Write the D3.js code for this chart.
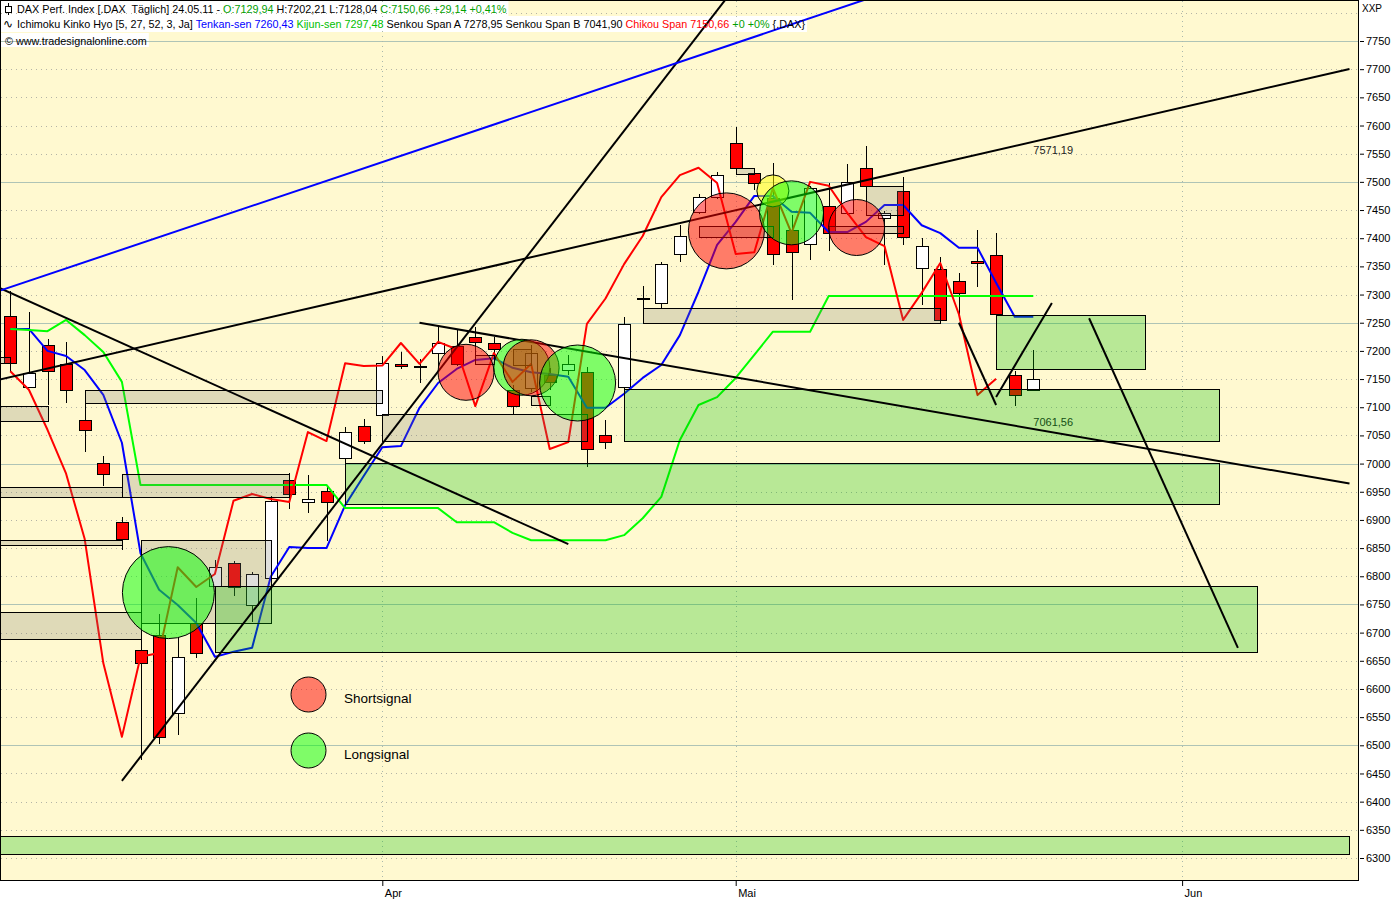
<!DOCTYPE html>
<html>
<head>
<meta charset="utf-8">
<script src="https://cdn.jsdelivr.net/npm/d3@7"></script>
<style>
  html, body { margin: 0; padding: 0; background: #ffffff; }
  svg { display: block; font-family: "Liberation Sans", Arial, sans-serif; }
</style>
</head>
<body>
<svg id="chart" width="1400" height="900"></svg>
<script>
// ---- DAX daily candles, 04.03.2011 – 24.05.2011 ----
const dates = ["04.03","07.03","08.03","09.03","10.03","11.03","14.03","15.03","16.03","17.03",
  "18.03","21.03","22.03","23.03","24.03","25.03","28.03","29.03","30.03","31.03",
  "01.04","04.04","05.04","06.04","07.04","08.04","11.04","12.04","13.04","14.04",
  "15.04","18.04","19.04","20.04","21.04","26.04","27.04","28.04","29.04","02.05",
  "03.05","04.05","05.05","06.05","09.05","10.05","11.05","12.05","13.05","16.05",
  "17.05","18.05","19.05","20.05","23.05","24.05"];

const open = [7262,7136,7210,7177,7077,7001,6896,6669,6696,6557,6717,6783,6824,6749,6797,6971,6932,6951,7010,7067,
  7086,7177,7172,7196,7209,7225,7214,7131,7134,7157,7166,7162,7051,7136,7292,7285,7372,7446,7473,7569,
  7516,7471,7415,7390,7457,7445,7525,7436,7484,7347,7345,7324,7360,7370,7157,7129.94];
const high = [7306,7269,7221,7216,7106,7013,6905,6705,6733,6692,6761,6829,6827,6808,6942,6983,6980,6960,7065,7079,
  7191,7198,7186,7242,7237,7242,7225,7139,7210,7170,7193,7171,7077,7260,7315,7358,7423,7478,7517,7597,
  7521,7533,7441,7493,7498,7532,7564,7449,7509,7400,7367,7338,7415,7409,7164,7202.21];
const low = [7162,7134,7104,7108,7021,6960,6847,6474,6502,6518,6655,6776,6765,6719,6793,6919,6912,6863,7001,7035,
  7077,7168,7143,7171,7173,7193,7193,7088,7127,7131,7157,6994,7026,7127,7276,7276,7358,7443,7470,7521,
  7486,7352,7290,7361,7377,7441,7489,7352,7388,7282,7251,7260,7313,7262,7102,7128.04];
const close = [7178,7161,7164,7131,7060,6982,6866,6646,6515,6657,6664,6816,6781,6804,6934,6946,6937,6932,7056,7040,
  7178,7173,7174,7214,7177,7216,7203,7102,7196,7145,7177,7026,7038,7248,7293,7354,7404,7473,7512,7525,
  7498,7372,7375,7489,7409,7500,7493,7445,7402,7386,7255,7303,7356,7265,7121.52,7150.66];

// ---- Ichimoku [5, 27, 52, 3] ----
const tenkan = [7239,7239,7200,7191,7166,7122,7037,6841,6776,6749,6717,6657,6666,6673,6799,6852,6850,6850,6926,6978,
  7029,7031,7099,7143,7168,7184,7187,7170,7162,7159,7154,7099,7099,7124,7152,7175,7228,7305,7388,7429,
  7475,7475,7447,7445,7411,7411,7429,7459,7459,7423,7409,7383,7383,7321,7260.43,7260.43];
const kijun = [7239,7237,7235,7255,7228,7198,7145,6962,6962,6962,6962,6962,6962,6962,6962,6962,6962,6962,6921,6921,
  6921,6921,6921,6921,6896,6896,6896,6877,6864,6864,6864,6864,6864,6873,6903,6941,7042,7104,7118,7152,
  7193,7234,7234,7234,7297.48,7297.48,7297.48,7297.48,7297.48,7297.48,7297.48,7297.48,7297.48,7297.48,7297.48,7297.48];
const chikouShift = 2;

// ---- signal circles ----
const signalKind  = ["long","short","long","short","long","short","neutral","long","short"];
const signalIdx   = [8.5, 24.5, 27.5, 28, 30.5, 38.5, 41, 42, 45.5];
const signalPrice = [6771, 7162, 7171, 7170, 7143, 7413, 7484, 7445, 7419];

// ---- support / resistance zones: [from bar, to bar, upper, lower] ----
const grayFrom  = [-1, -1, 4, -1, 6, -1, 7, -1, 20, 25, 27, 28, 34, 39, 46, 37, 44];
const grayTo    = [0, 2, 20, 6, 15, 6, 14, 7, 31, 26, 28, 29, 50, 40, 48, 41, 48];
const grayUpper = [7189, 7102, 7131, 6958, 6982, 6864, 6864, 6737, 7088, 7193, 7203, 7120, 7276, 7525, 7493, 7422, 7422];
const grayLower = [7178, 7076, 7108, 6941, 6941, 6856, 6717, 6689, 7040, 7177, 7175, 7104, 7250, 7514, 7441, 7402, 7409];

const greenFrom  = [18, 11, 33, 53, -1];
const greenTo    = [65, 67, 65, 61, 72];
const greenUpper = [7001, 6783, 7132, 7264, 6339];
const greenLower = [6928, 6666, 7040, 7168, 6307];

// ---- trend lines: [bar1, price1, bar2, price2] ----
const trendFrom  = [-1, -1, 6, -1, 22, 51, 53, 58];
const trendP1    = [7318, 7146, 6437, 7302, 7250, 7250, 7118, 7258];
const trendTo    = [30, 72, 39, 47, 72, 53, 56, 66];
const trendP2    = [6857, 7700.27, 7847, 7835, 6964.485, 7104, 7285, 6673];
const trendKind  = ["black","black","black","blue","black","black","black","black"];
const trendValueAt = 55;
const trendLabelled = [1, 4];   // lines carrying a value label at the last bar

// ---- axis ticks ----
const monthLabels = ["Apr", "Mai", "Jun"];
const monthBars   = [20, 39, 63];
const priceTicks  = d3.range(6300, 7751, 50);
const gridPrices  = d3.range(6300, 7801, 50);

// ---- legend ----
const legendLabels = ["Shortsignal", "Longsignal"];

// ===================================================================
const svg = d3.select("#chart");
const plot = { l: 1, t: 1, r: 1358, b: 880 };

const x = d3.scaleLinear().domain([0, 55]).range([10.3, 1033.3]);
const y = d3.scaleLinear().domain([6300, 7750]).range([858, 41]);
const deFmt = d3.formatLocale({ decimal: ",", thousands: ".", grouping: [3], currency: ["", " €"] }).format(".2f");

svg.append("rect").attr("width", 1400).attr("height", 900).attr("fill", "#ffffff");
svg.append("rect")
  .attr("x", plot.l).attr("y", plot.t)
  .attr("width", plot.r - plot.l).attr("height", plot.b - plot.t)
  .attr("fill", "#FFF9D0");

svg.append("clipPath").attr("id", "plotclip")
  .append("rect").attr("x", plot.l).attr("y", plot.t)
  .attr("width", plot.r - plot.l).attr("height", plot.b - plot.t);

const headerBg = svg.append("g");
const g = svg.append("g").attr("clip-path", "url(#plotclip)");

// grid
const grid = g.append("g").attr("shape-rendering", "crispEdges");
grid.selectAll("line.h").data(gridPrices).join("line")
  .attr("x1", plot.l).attr("x2", plot.r)
  .attr("y1", d => Math.round(y(d)) + 0.5).attr("y2", d => Math.round(y(d)) + 0.5)
  .attr("stroke", d => d % 250 === 0 ? "#AFC4B6" : "#B4B4A6")
  .attr("stroke-width", 1)
  .attr("stroke-dasharray", d => d % 250 === 0 ? null : "1,4");
grid.selectAll("line.v").data(monthBars).join("line")
  .attr("x1", d => Math.round(x(d)) + 0.5).attr("x2", d => Math.round(x(d)) + 0.5)
  .attr("y1", plot.t).attr("y2", plot.b)
  .attr("stroke", "#AAB8AC").attr("stroke-dasharray", "1,4");

// candles
const bars = d3.range(dates.length).map(i => ({ i, o: open[i], h: high[i], l: low[i], c: close[i] }));
const cg = g.append("g").attr("shape-rendering", "crispEdges");
cg.selectAll("line").data(bars).join("line")
  .attr("x1", d => Math.round(x(d.i)) + 0.5).attr("x2", d => Math.round(x(d.i)) + 0.5)
  .attr("y1", d => y(d.h)).attr("y2", d => y(d.l))
  .attr("stroke", "#000").attr("stroke-width", 1);
cg.selectAll("rect").data(bars).join("rect")
  .attr("x", d => Math.round(x(d.i)) - 5.5)
  .attr("width", 12)
  .attr("y", d => Math.round(y(Math.max(d.o, d.c))) + 0.5)
  .attr("height", d => Math.max(1, Math.round(y(Math.min(d.o, d.c))) - Math.round(y(Math.max(d.o, d.c)))))
  .attr("fill", d => d.c >= d.o ? "#FFFFFF" : "#FF0000")
  .attr("stroke", "#000").attr("stroke-width", 1);

// ichimoku lines
const line = d3.line().x(d => x(d[0])).y(d => y(d[1]));
const ig = g.append("g").attr("fill", "none").attr("stroke-width", 2).attr("stroke-linejoin", "round");
ig.append("path").attr("d", line(tenkan.map((v, i) => [i, v]))).attr("stroke", "#0000FF");
ig.append("path").attr("d", line(kijun.map((v, i) => [i, v]))).attr("stroke", "#00FF00");
const chikou = close.slice(chikouShift).map((v, i) => [i, v]);
ig.append("path").attr("d", line(chikou)).attr("stroke", "#FF0000");

// trend line value labels (under zones so the green tint applies)
const lineAt = (k, b) => trendP1[k] + (trendP2[k] - trendP1[k]) * (b - trendFrom[k]) / (trendTo[k] - trendFrom[k]);
const lg = g.append("g").attr("font-size", 11).attr("fill", "#222");
trendLabelled.forEach(k => {
  const v = lineAt(k, trendValueAt);
  const above = trendP2[k] < trendP1[k];
  lg.append("text")
    .attr("x", x(trendValueAt))
    .attr("y", y(v) + (above ? -3 : 12.5))
    .text(deFmt(v));
});

// zones
const zg = g.append("g").attr("shape-rendering", "crispEdges").attr("stroke", "#000").attr("stroke-width", 1);
const zone = (from, to, up, lo) => d3.range(from.length).map(k => ({ a: from[k], b: to[k], u: up[k], d: lo[k] }));
zg.selectAll("rect.gray").data(zone(grayFrom, grayTo, grayUpper, grayLower)).join("rect")
  .attr("x", d => Math.round(x(d.a)) + 0.5).attr("width", d => Math.round(x(d.b)) - Math.round(x(d.a)))
  .attr("y", d => Math.round(y(d.u)) + 0.5).attr("height", d => Math.round(y(d.d)) - Math.round(y(d.u)))
  .attr("fill", "rgba(120,120,110,0.24)");
zg.selectAll("rect.green").data(zone(greenFrom, greenTo, greenUpper, greenLower)).join("rect")
  .attr("x", d => Math.round(x(d.a)) + 0.5).attr("width", d => Math.round(x(d.b)) - Math.round(x(d.a)))
  .attr("y", d => Math.round(y(d.u)) + 0.5).attr("height", d => Math.round(y(d.d)) - Math.round(y(d.u)))
  .attr("fill", "rgba(0,190,0,0.28)");

// trend lines
const tg = g.append("g").attr("stroke-width", 2);
d3.range(trendFrom.length).forEach(k => {
  tg.append("line")
    .attr("x1", x(trendFrom[k])).attr("y1", y(trendP1[k]))
    .attr("x2", x(trendTo[k])).attr("y2", y(trendP2[k]))
    .attr("stroke", trendKind[k] === "blue" ? "#0000FF" : "#000000");
});

// signal circles
const signalRadius = [46, 28, 28, 28, 38, 38, 16, 32, 28];
const signalFill = { long: "rgba(0,255,0,0.5)", short: "rgba(255,0,0,0.5)", neutral: "rgba(255,255,0,0.5)" };
g.append("g").selectAll("circle").data(d3.range(signalIdx.length)).join("circle")
  .attr("cx", k => x(signalIdx[k])).attr("cy", k => y(signalPrice[k]))
  .attr("r", k => signalRadius[k])
  .attr("fill", k => signalFill[signalKind[k]])
  .attr("stroke", "#000").attr("stroke-width", 1);

// legend
const leg = svg.append("g");
legendLabels.forEach((t, k) => {
  const cy = 694.5 + k * 56;
  leg.append("circle").attr("cx", 308.5).attr("cy", cy).attr("r", 17.5)
    .attr("fill", k === 0 ? signalFill.short : signalFill.long)
    .attr("stroke", "#000").attr("stroke-width", 1);
  leg.append("text").attr("x", 344).attr("y", cy + 8.5)
    .attr("font-size", 13.5).attr("fill", "#000").text(t);
});

// frame
svg.append("rect")
  .attr("x", plot.l - 0.5).attr("y", plot.t - 0.5)
  .attr("width", plot.r - plot.l + 1).attr("height", plot.b - plot.t + 1)
  .attr("fill", "none").attr("stroke", "#000").attr("stroke-width", 1)
  .attr("shape-rendering", "crispEdges");

// price axis
const yAxis = d3.axisRight(y).tickValues(priceTicks).tickSize(4).tickPadding(2).tickFormat(d3.format("d"));
const ya = svg.append("g").attr("transform", `translate(${plot.r + 2},0)`).call(yAxis);
ya.select(".domain").remove();
ya.selectAll("text").attr("font-size", 11).attr("font-family", "Liberation Sans, Arial, sans-serif").attr("fill", "#000");
ya.selectAll("line").attr("stroke", "#000");
svg.append("text").attr("x", 1362).attr("y", 12).attr("font-size", 10).attr("fill", "#000").text("XXP");

// time axis
const xAxis = d3.axisBottom(x).tickValues(monthBars).tickSize(5).tickFormat((d, k) => monthLabels[k]);
const xa = svg.append("g").attr("transform", `translate(0,${plot.b + 1})`).call(xAxis);
xa.select(".domain").remove();
xa.selectAll("text").attr("font-size", 11).attr("font-family", "Liberation Sans, Arial, sans-serif")
  .attr("text-anchor", "start").attr("dx", 2).attr("dy", "0.75em").attr("fill", "#000");
xa.selectAll("line").attr("stroke", "#000");

// header
const hdr = svg.append("g").attr("font-size", 10.8).attr("fill", "#000");
const headerLines = [
  { y: 13, x: 17, parts: [
    ["DAX Perf. Index [.DAX  Täglich] 24.05.11 - ", "#000"],
    ["O:" + deFmt(open[55]), "#00A000"],
    [" H:" + deFmt(high[55]) + " L:" + deFmt(low[55]) + " ", "#000"],
    ["C:" + deFmt(close[55]) + " +" + deFmt(close[55] - close[54]) + " +" + deFmt((close[55] / close[54] - 1) * 100) + "%", "#00A000"]
  ]},
  { y: 28, x: 17, parts: [
    ["Ichimoku Kinko Hyo [5, 27, 52, 3, Ja] ", "#000"],
    ["Tenkan-sen " + deFmt(tenkan[55]), "#0000FF"],
    [" ", "#000"],
    ["Kijun-sen " + deFmt(kijun[55]), "#00C000"],
    [" Senkou Span A 7278,95 Senkou Span B 7041,90 ", "#000"],
    ["Chikou Span " + deFmt(close[55]), "#FF0000"],
    [" +0 +0%", "#00A000"],
    [" {.DAX}", "#000"]
  ]},
  { y: 45, x: 5, parts: [["© www.tradesignalonline.com", "#000"]] }
];
headerLines.forEach((ln, k) => {
  const t = hdr.append("text").attr("x", ln.x).attr("y", ln.y).attr("xml:space", "preserve");
  ln.parts.forEach(p => t.append("tspan").attr("fill", p[1]).text(p[0]));
  const w = t.node().getComputedTextLength();
  headerBg.append("rect").attr("x", plot.l).attr("y", ln.y - 12)
    .attr("width", ln.x + w + 2 - plot.l).attr("height", k === 2 ? 14 : 16)
    .attr("fill", "#FFFFFF");
});
// header icons: candle glyph and wave glyph
hdr.append("line").attr("x1", 8.5).attr("x2", 8.5).attr("y1", 3).attr("y2", 15).attr("stroke", "#000");
hdr.append("rect").attr("x", 5.5).attr("y", 6.5).attr("width", 6).attr("height", 6).attr("fill", "#fff").attr("stroke", "#000");
hdr.append("text").attr("x", 3).attr("y", 28).attr("font-size", 12).text("∿");
</script>
</body>
</html>
